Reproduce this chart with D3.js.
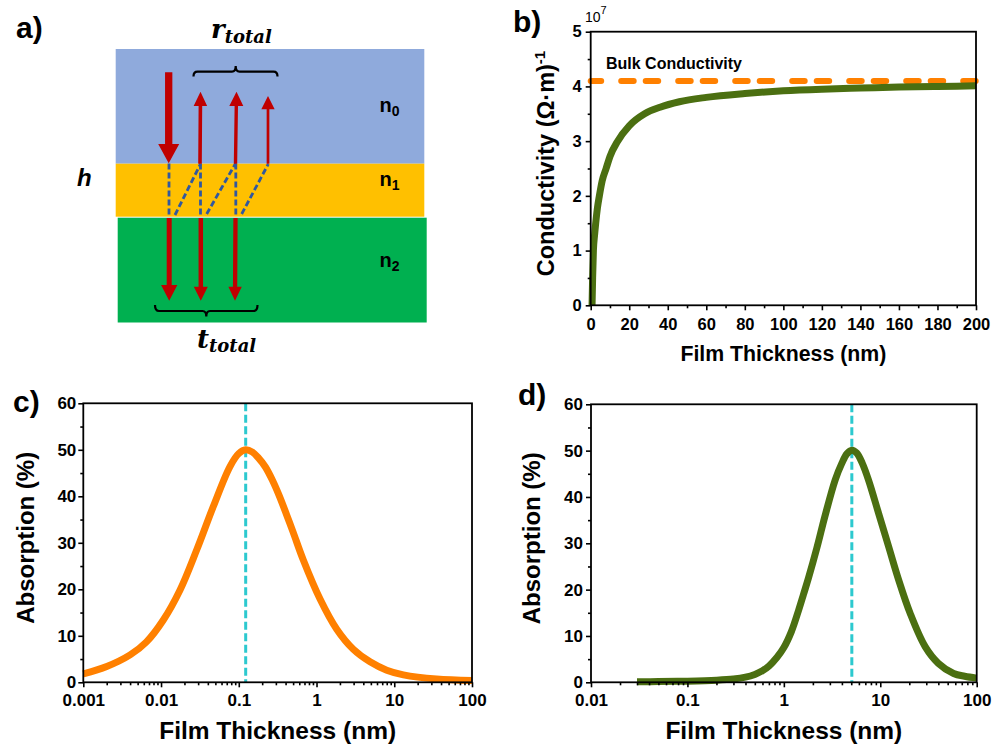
<!DOCTYPE html>
<html><head><meta charset="utf-8">
<script src="https://cdn.jsdelivr.net/npm/d3@7"></script>
<style>body{margin:0;background:#fff}svg{display:block;font-family:"Liberation Sans",Arial,sans-serif}</style>
</head><body><svg id="fig" width="997" height="746"></svg>
<script>
// ---------------- data ----------------
// panel b: conductivity (units of 1e7 (Ohm m)^-1) vs film thickness (nm)
const condThickness = [0.7, 1.0, 1.4, 2.0, 2.6, 3.5, 4.5, 6, 8, 10, 14, 20, 28, 36, 46, 60, 80, 100, 120, 140, 160, 180, 200];
const condValues    = [0, 0.5, 1.0, 1.28, 1.5, 1.78, 2.0, 2.28, 2.5, 2.72, 3.0, 3.28, 3.5, 3.62, 3.72, 3.8, 3.87, 3.92, 3.95, 3.97, 3.99, 4.0, 4.01];
const bulkConductivity = 4.1;
const bulkLabel = "Bulk Conductivity";
// panel c: absorption (%) vs thickness (nm), log axis
const absCThickness = [0.001, 0.002, 0.004, 0.0065, 0.0107, 0.0175, 0.0288, 0.047, 0.077, 0.1, 0.1227, 0.15, 0.18, 0.22, 0.27, 0.33, 0.413, 0.5, 0.676, 1.11, 1.82, 2.97, 4.88, 8.0, 13.1, 35, 100];
const absCValues    = [1.8, 3.4, 5.9, 8.7, 13.4, 19.8, 28.5, 37.8, 46.4, 49.2, 50.0, 49.5, 48.2, 46.3, 43.5, 40.2, 36.0, 32.3, 26.3, 17.9, 11.4, 7.1, 4.4, 2.6, 1.6, 0.7, 0.4];
const peakC = 0.1227;
// panel d
const absDThickness = [0.03, 0.05, 0.1, 0.2, 0.3, 0.4, 0.5, 0.6, 0.7, 0.85, 1.0, 1.2, 1.42, 1.6, 1.8, 2.2, 2.68, 3.41, 4.0, 4.5, 5.07, 5.7, 6.5, 7.54, 9.6, 12.2, 15.5, 20.4, 29.2, 40, 57.6, 75, 100];
const absDValues    = [0.1, 0.15, 0.25, 0.45, 0.7, 1.1, 1.7, 2.5, 3.5, 5.4, 7.5, 11.0, 15.5, 19.0, 22.5, 29.0, 36.0, 43.7, 47.3, 49.3, 50.1, 49.5, 47.3, 43.7, 36.5, 29.3, 22.1, 14.9, 7.7, 4.1, 1.9, 1.3, 0.9];
const peakD = 5.07;
// ticks
const bXTicks = [0, 20, 40, 60, 80, 100, 120, 140, 160, 180, 200];
const bXMinor = [10, 30, 50, 70, 90, 110, 130, 150, 170, 190];
const bYTicks = [0, 1, 2, 3, 4, 5];
const bYMinor = [0.5, 1.5, 2.5, 3.5, 4.5];
const absYTicks = [0, 10, 20, 30, 40, 50, 60];
const absYMinor = [5, 15, 25, 35, 45, 55];
const cXTicks = [0.001, 0.01, 0.1, 1, 10, 100];
const cXLabels = ["0.001", "0.01", "0.1", "1", "10", "100"];
const dXTicks = [0.01, 0.1, 1, 10, 100];
const dXLabels = ["0.01", "0.1", "1", "10", "100"];

// ---------------- drawing ----------------
const svg = d3.select('#fig');
const ORANGE = '#ff8000', OLIVE = '#4b6f11', CYAN = '#2cc9cf';

function styleAxis(sel, fontSize) {
  sel.select('.domain').remove();
  sel.selectAll('.tick line').attr('stroke', '#000').attr('stroke-width', 1.6);
  sel.selectAll('.tick text').attr('fill', '#000').style('font-size', fontSize + 'px')
     .style('font-weight', 'bold').style('font-family', '"Liberation Sans", Arial, sans-serif');
}

function drawAxes(g, x, y, o) {
  const [x0, x1] = x.range(), [y0, y1] = y.range();
  g.append('g').attr('transform', `translate(0,${y0})`)
    .call(d3.axisBottom(x).tickValues(o.xMinor).tickSize(3).tickFormat(''))
    .call(s => styleAxis(s, o.fs));
  g.append('g').attr('transform', `translate(0,${y0})`)
    .call(d3.axisBottom(x).tickValues(o.xTicks).tickSize(5).tickPadding(o.xPad)
      .tickFormat((d, i) => o.xLabels ? o.xLabels[i] : d3.format('d')(d)))
    .call(s => styleAxis(s, o.fs));
  g.append('g').attr('transform', `translate(${x0},0)`)
    .call(d3.axisLeft(y).tickValues(o.yMinor).tickSize(3).tickFormat(''))
    .call(s => styleAxis(s, o.fs));
  g.append('g').attr('transform', `translate(${x0},0)`)
    .call(d3.axisLeft(y).tickValues(o.yTicks).tickSize(5).tickPadding(o.yPad).tickFormat(d3.format('d')))
    .call(s => styleAxis(s, o.fs));
  g.append('rect').attr('x', x0).attr('y', y1).attr('width', x1 - x0).attr('height', y0 - y1)
    .attr('fill', 'none').attr('stroke', '#000').attr('stroke-width', 1.8);
}

function titles(g, x, y, xt, xs, ys, xBase, yCx) {
  const [x0, x1] = x.range(), [y0, y1] = y.range();
  g.append('text').attr('x', (x0 + x1) / 2).attr('y', xBase).attr('text-anchor', 'middle')
    .style('font-size', xs + 'px').style('font-weight', 'bold').text(xt);
  return g.append('text').attr('transform', `translate(${yCx},${(y0 + y1) / 2 - 5}) rotate(-90)`)
    .attr('text-anchor', 'middle').style('font-size', ys + 'px').style('font-weight', 'bold');
}

// ---- panel b ----
{
  const g = svg.append('g');
  const x = d3.scaleLinear().domain([0, 200]).range([590.7, 976]);
  const y = d3.scaleLinear().domain([0, 5]).range([305.3, 31.7]);
  g.append('line').attr('x1', x(0)).attr('x2', x(200)).attr('y1', y(bulkConductivity)).attr('y2', y(bulkConductivity))
    .attr('stroke', ORANGE).attr('stroke-width', 6).attr('stroke-linecap', 'round')
    .attr('stroke-dasharray', '12.5,20,12.5,12').attr('stroke-dashoffset', 2);
  const line = d3.line().x((d, i) => x(condThickness[i])).y(d => y(d)).curve(d3.curveMonotoneX);
  g.append('path').attr('d', line(condValues)).attr('fill', 'none').attr('stroke', OLIVE).attr('stroke-width', 7);
  drawAxes(g, x, y, { xTicks: bXTicks, xMinor: bXMinor, yTicks: bYTicks, yMinor: bYMinor, xPad: 8, yPad: 4, fs: 16.5 });
  g.append('text').attr('x', 606).attr('y', 69).style('font-size', '16px').style('font-weight', 'bold').text(bulkLabel);
  const t = titles(g, x, y, 'Film Thickness (nm)', 21.3, 23.5, 361, 554);
  t.append('tspan').text('Conductivity (Ω·m)');
  t.append('tspan').attr('dy', -9).style('font-size', '15px').text('-1');
  const e = g.append('text').attr('x', 585).attr('y', 21.7).style('font-size', '14px');
  e.append('tspan').text('10');
  e.append('tspan').attr('dy', -8).style('font-size', '11px').text('7');
  g.append('text').attr('x', 513).attr('y', 32).style('font-size', '30px').style('font-weight', 'bold').text('b)');
}

// ---- panel c & d ----
function absPanel(o) {
  const g = svg.append('g');
  const x = d3.scaleLog().domain(o.domain).range(o.xr);
  const y = d3.scaleLinear().domain([0, 60]).range(o.yr);
  g.append('line').attr('x1', x(o.peak)).attr('x2', x(o.peak)).attr('y1', y(60)).attr('y2', y(0))
    .attr('stroke', CYAN).attr('stroke-width', 3).attr('stroke-dasharray', '8,3.5');
  const line = d3.line().x((d, i) => x(o.tx[i])).y(d => y(d)).curve(d3.curveCatmullRom.alpha(0.5));
  g.append('path').attr('d', line(o.vals)).attr('fill', 'none').attr('stroke', o.color)
    .attr('stroke-width', 7).attr('stroke-linejoin', 'round');
  const minor = x.ticks().filter(v => !o.xTicks.some(t => Math.abs(t - v) / t < 1e-6));
  drawAxes(g, x, y, { xTicks: o.xTicks, xLabels: o.xLabels, xMinor: minor, yTicks: absYTicks, yMinor: absYMinor, xPad: 7, yPad: o.yPad, fs: 17 });
  const t = titles(g, x, y, 'Film Thickness (nm)', 24.5, 24, 738.5, o.yCx);
  t.text('Absorption (%)');
  g.append('text').attr('x', o.lx).attr('y', o.ly).style('font-size', '30px').style('font-weight', 'bold').text(o.label);
}
absPanel({ domain: [0.001, 100], xr: [83.3, 472], yr: [682.3, 403.3], peak: peakC, tx: absCThickness, vals: absCValues,
  color: ORANGE, xTicks: cXTicks, xLabels: cXLabels, yPad: 2, yCx: 34, label: 'c)', lx: 13, ly: 411.7 });
absPanel({ domain: [0.01, 100], xr: [591, 976.7], yr: [682.3, 404.3], peak: peakD, tx: absDThickness, vals: absDValues,
  color: OLIVE, xTicks: dXTicks, xLabels: dXLabels, yPad: 3, yCx: 540, label: 'd)', lx: 518, ly: 405 });

// ---- panel a (schematic) ----
{
  const g = svg.append('g');
  g.append('rect').attr('x', 115.7).attr('y', 49).attr('width', 308.6).attr('height', 114.7).attr('fill', '#8faadc');
  g.append('rect').attr('x', 115.7).attr('y', 163.7).attr('width', 308.6).attr('height', 53).attr('fill', '#ffc000');
  g.append('rect').attr('x', 117.7).attr('y', 217.7).attr('width', 309).attr('height', 104.8).attr('fill', '#00b050');
  const RED = '#c00000';
  function arrow(x1, y1, x2, y2, sw, hw, hl) {
    const dx = x2 - x1, dy = y2 - y1, L = Math.hypot(dx, dy), ux = dx / L, uy = dy / L, px = -uy, py = ux;
    const bx = x2 - ux * hl, by = y2 - uy * hl;
    const pts = [[x1 + px * sw / 2, y1 + py * sw / 2], [bx + px * sw / 2, by + py * sw / 2], [bx + px * hw / 2, by + py * hw / 2],
      [x2, y2], [bx - px * hw / 2, by - py * hw / 2], [bx - px * sw / 2, by - py * sw / 2], [x1 - px * sw / 2, y1 - py * sw / 2]];
    g.append('polygon').attr('points', pts.map(p => p.join(',')).join(' ')).attr('fill', RED);
  }
  const dash = [[169, 163.5, 169, 216], [175, 215, 200.5, 164], [200.5, 163.5, 200.5, 216], [206.7, 214, 235.5, 163.5],
    [235.8, 163.5, 235.8, 216], [241.7, 214, 268.3, 164]];
  dash.forEach(d => g.append('line').attr('x1', d[0]).attr('y1', d[1]).attr('x2', d[2]).attr('y2', d[3])
    .attr('stroke', '#3058a0').attr('stroke-width', 2.8).attr('stroke-dasharray', '6,3'));
  arrow(168.7, 72.3, 168.7, 163.3, 7.3, 21, 19.3);
  arrow(200, 163.7, 200.5, 91.7, 3.6, 13.5, 14.3);
  arrow(235.5, 163.7, 236.5, 91.7, 3.4, 14, 14.3);
  arrow(268, 163.7, 268, 96, 2.7, 13.3, 13.3);
  arrow(169.2, 218, 169.2, 300.7, 5, 16.3, 15.7);
  arrow(200.8, 218, 200.8, 300.7, 4.5, 14, 14);
  arrow(235.5, 218, 235, 300.7, 4.3, 13.4, 14);
  g.append('path').attr('d', 'M193.5,76.5 Q193.5,71.7 197.5,71.7 L232,71.7 Q235.7,71.7 235.7,66 Q235.7,71.7 239.5,71.7 L273.5,71.7 Q277.5,71.7 277.5,76.5')
    .attr('fill', 'none').attr('stroke', '#000').attr('stroke-width', 2.2);
  g.append('path').attr('d', 'M155,305 Q155,311 159,311 L202.5,311 Q206.3,311 206.3,316.5 Q206.3,311 210,311 L253.5,311 Q257.5,311 257.5,305')
    .attr('fill', 'none').attr('stroke', '#000').attr('stroke-width', 2.2);
  const serif = '"DejaVu Serif", serif';
  const r = g.append('text').attr('x', 211).attr('y', 38.3).style('font-family', serif).style('font-style', 'italic').style('font-weight', 'bold');
  r.append('tspan').style('font-size', '26px').text('r');
  r.append('tspan').attr('dy', 4.4).style('font-size', '18px').text('total');
  const tt = g.append('text').attr('x', 197).attr('y', 348.3).style('font-family', serif).style('font-style', 'italic').style('font-weight', 'bold');
  tt.append('tspan').style('font-size', '26px').text('t');
  tt.append('tspan').attr('dy', 3.4).style('font-size', '18px').text('total');
  g.append('text').attr('x', 77).attr('y', 185.5).style('font-size', '24px').style('font-weight', 'bold').style('font-style', 'italic').text('h');
  [['0', 111.7], ['1', 185.7], ['2', 266.7]].forEach(([s, yb]) => {
    const t = g.append('text').attr('x', 379.5).attr('y', yb).style('font-size', '20px').style('font-weight', 'bold');
    t.append('tspan').text('n');
    t.append('tspan').attr('dy', 4.5).style('font-size', '14px').text(s);
  });
  g.append('text').attr('x', 16).attr('y', 38).style('font-size', '30px').style('font-weight', 'bold').text('a)');
}
</script></body></html>
